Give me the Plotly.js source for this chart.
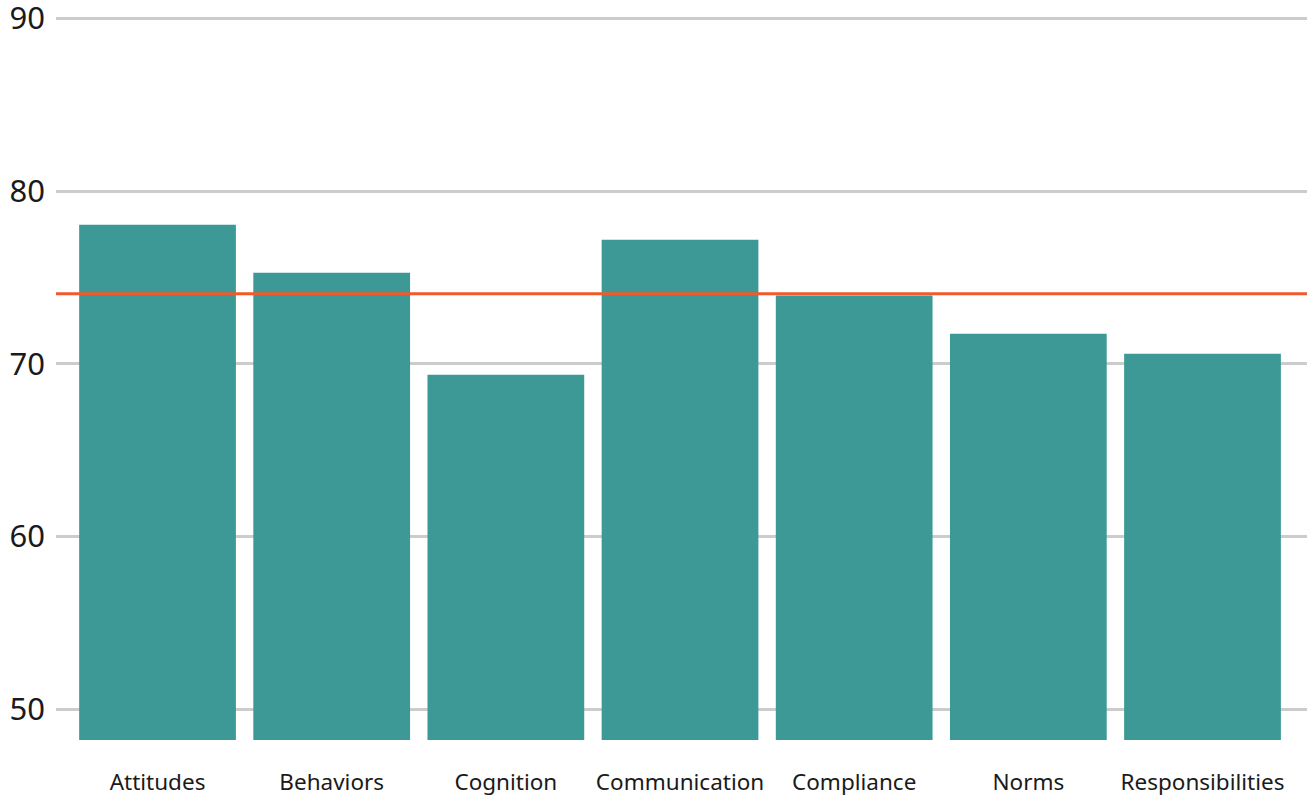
<!DOCTYPE html>
<html>
<head>
<meta charset="utf-8">
<script src="https://cdn.plot.ly/plotly-3.0.1.min.js"></script>
<style>
  html, body { margin: 0; padding: 0; background: #fff; }
  #chart { width: 1307px; height: 798px; }
</style>
</head>
<body>
<div id="chart"></div>
<script>
// Score by culture dimension
const categories = ['Attitudes', 'Behaviors', 'Cognition', 'Communication', 'Compliance', 'Norms', 'Responsibilities'];
const scores = [78.05, 75.27, 69.36, 77.18, 73.95, 71.74, 70.58];
const benchmark = 74.05;
const yTicks = [50, 60, 70, 80, 90];

const barTrace = {
  type: 'bar',
  x: categories,
  y: scores,
  marker: { color: '#3d9996' },
  hoverinfo: 'x+y'
};

const layout = {
  width: 1307,
  height: 798,
  margin: { l: 56, r: 0, t: 8.3, b: 58 },
  paper_bgcolor: '#ffffff',
  plot_bgcolor: '#ffffff',
  bargap: 0.1,
  showlegend: false,
  font: { family: '"Noto Sans", "Open Sans", sans-serif', color: '#1a1a1a' },
  xaxis: {
    type: 'category',
    range: [-0.583, 6.6],
    showgrid: false,
    zeroline: false,
    showline: false,
    ticks: '',
    tickfont: { size: 22.5, color: '#1a1a1a' },
    ticklabelstandoff: 26
  },
  yaxis: {
    range: [48.22, 90.6],
    tickvals: yTicks,
    ticktext: yTicks.map(String),
    showgrid: true,
    gridcolor: '#cccccc',
    gridwidth: 3,
    zeroline: false,
    showline: false,
    ticks: '',
    tickfont: { size: 31, color: '#1a1a1a' },
    ticklabelstandoff: 10,
    ticklabeloverflow: 'allow'
  },
  shapes: [{
    type: 'line',
    xref: 'paper', x0: 0, x1: 1,
    yref: 'y', y0: benchmark, y1: benchmark,
    line: { color: '#f15a2b', width: 3 },
    layer: 'above'
  }]
};

Plotly.newPlot('chart', [barTrace], layout, { displayModeBar: false, staticPlot: true });
</script>
</body>
</html>
